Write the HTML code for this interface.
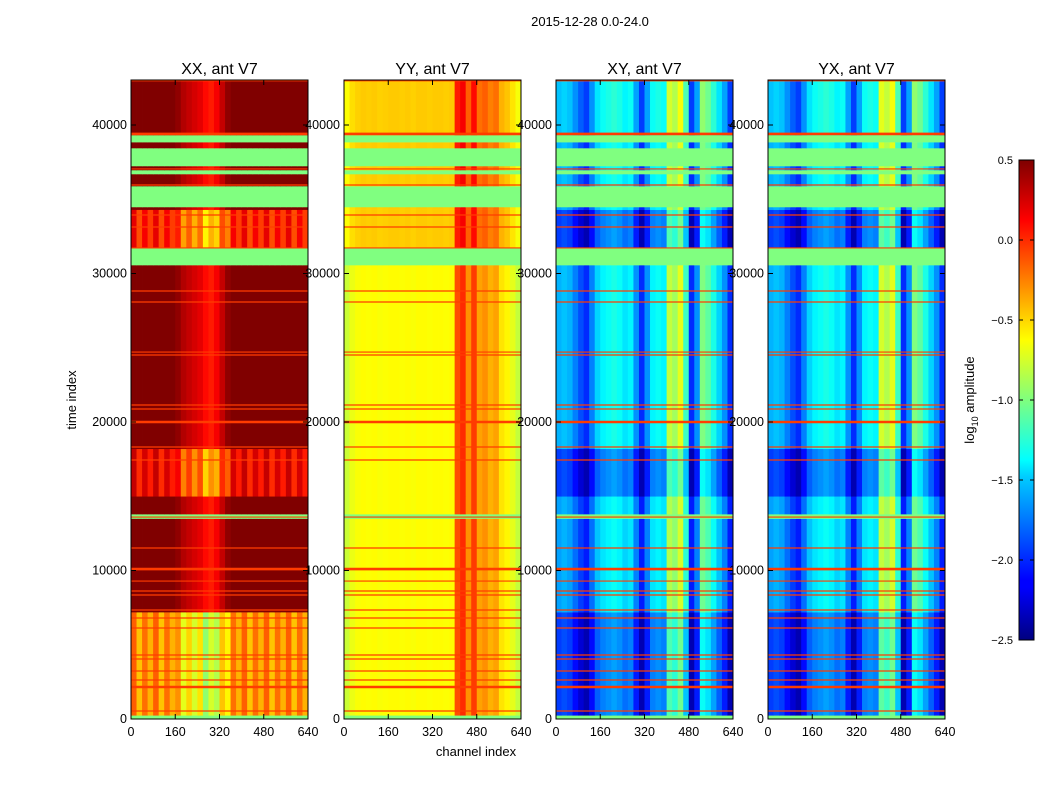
<!DOCTYPE html>
<html><head><meta charset="utf-8">
<style>
body{margin:0;background:#fff;font-family:"Liberation Sans",sans-serif;}
svg text{font-family:"Liberation Sans",sans-serif;}
</style></head>
<body>
<svg id="fig" width="1050" height="800" xmlns="http://www.w3.org/2000/svg">
<text x="590" y="26" font-size="13" text-anchor="middle">2015-12-28 0.0-24.0</text>
<text x="76" y="400" font-size="13" text-anchor="middle" transform="rotate(-90 76 400)">time index</text>
<text x="476" y="756" font-size="13" text-anchor="middle">channel index</text>
<defs>
<linearGradient id="jet" x1="0" y1="1" x2="0" y2="0">
<stop offset="0" stop-color="#00007f"/><stop offset="0.11" stop-color="#0000ff"/><stop offset="0.125" stop-color="#0000ff"/><stop offset="0.34" stop-color="#00ccff"/><stop offset="0.375" stop-color="#00ffff"/><stop offset="0.5" stop-color="#7fff7f"/><stop offset="0.625" stop-color="#ffff00"/><stop offset="0.66" stop-color="#ffdd00"/><stop offset="0.875" stop-color="#ff0000"/><stop offset="1" stop-color="#7f0000"/>
</linearGradient>
</defs>
<g id="cbar">
<rect x="1019" y="160" width="15" height="480" fill="url(#jet)" stroke="#000" stroke-width="1"/>
<text x="974" y="400" font-size="13" text-anchor="middle" transform="rotate(-90 974 400)">log<tspan font-size="9" dy="4">10</tspan><tspan dy="-4"> amplitude</tspan></text>
</g>
</svg>
<script>
const tMax = 43030;
const segBounds = [0,250,7200,13500,13800,15000,18200,30570,31720,34300,34480,35890,36700,36970,37240,38450,38850,39330,43030];
const panelTitles = ["XX, ant V7","YY, ant V7","XY, ant V7","YX, ant V7"];
const xxProfile = [0.6,0.6,0.6,0.6,0.6,0.6,0.6,0.6,0.45,0.35,0.3,0.25,0.2,0.1,0.05,0.15,0.3,0.45,0.6,0.6,0.6,0.6,0.6,0.6,0.6,0.6,0.6,0.6,0.6,0.6,0.6,0.6];
const yyProfile = [-0.78,-0.68,-0.64,-0.62,-0.63,-0.62,-0.64,-0.63,-0.62,-0.62,-0.63,-0.62,-0.64,-0.62,-0.62,-0.63,-0.62,-0.62,-0.63,-0.62,-0.1,0.0,-0.3,-0.05,-0.35,-0.3,-0.4,-0.35,-0.55,-0.6,-0.7,-0.8];
const xyProfile = [-1.6,-1.55,-1.6,-1.75,-1.9,-2.0,-1.75,-1.5,-1.4,-1.35,-1.3,-1.35,-1.45,-1.4,-1.7,-2.0,-1.7,-1.4,-1.35,-1.4,-0.8,-0.9,-0.7,-1.2,-2.0,-1.7,-1.0,-1.1,-1.3,-1.5,-1.7,-2.0];
const yxProfile = [-1.6,-1.55,-1.6,-1.75,-1.9,-2.0,-1.75,-1.5,-1.4,-1.35,-1.3,-1.35,-1.45,-1.4,-1.7,-2.0,-1.7,-1.4,-1.35,-1.4,-0.75,-0.85,-0.7,-1.2,-2.0,-1.7,-1.0,-1.1,-1.3,-1.5,-1.7,-2.0];
const xxOffsets = [null,-0.9,0,null,0,-0.45,0,null,-0.55,0,null,0,null,0,null,0,null,0];
const yyOffsets = [null,0,0,null,0,0,0,null,0.15,0.15,null,0.15,null,0.15,null,0.15,null,0.15];
const xyOffsets = [null,-0.35,-0.05,null,-0.05,-0.35,0,null,-0.35,-0.05,null,0,null,0,null,0,null,0.05];
const yxOffsets = [null,-0.35,-0.05,null,-0.05,-0.35,0,null,-0.35,-0.05,null,0,null,0,null,0,null,0.05];
const ripple = [0.15,-0.15,0.1,-0.1,0.15,-0.15,0.1,-0.1,0.15,-0.15,0.1,-0.1,0.15,-0.15,0.1,-0.1,0.15,-0.15,0.1,-0.1,0.15,-0.15,0.1,-0.1,0.15,-0.15,0.1,-0.1,0.15,-0.15,0.1,-0.1];
const rippleSegs = [1,5,8];
const flagValue = -1.0;
const redLines = [540,2155,2625,3230,4040,4310,6130,6800,7340,8350,8620,9290,10100,11515,13600,17440,18315,20000,20875,21145,24510,24710,28080,28820,31720,33130,33940,35960,37040,39400,42980];
const thickLines = [2155,10100,20000,39400];
const yTicks = [0,10000,20000,30000,40000];
const xTicks = [0,160,320,480,640];
const cbTicks = [0.5,0.0,-0.5,-1.0,-1.5,-2.0,-2.5];

const profiles=[xxProfile,yyProfile,xyProfile,yxProfile];
const offsets=[xxOffsets,yyOffsets,xyOffsets,yxOffsets];
const panelX=[131,344,556,768], pw=177, topY=80, botY=719;
const vmin=-2.5,vmax=0.5;
const NS="http://www.w3.org/2000/svg";
const svg=document.getElementById('fig');
function ys(t){return botY-(t/tMax)*(botY-topY);}
function jet(v){let x=(v-vmin)/(vmax-vmin);x=Math.max(0,Math.min(1,x));
 const c=a=>Math.round(255*Math.max(0,Math.min(1,1.5-Math.abs(4*x-a))));
 return `rgb(${c(3)},${c(2)},${c(1)})`;}
function el(tag,attrs,parent){const e=document.createElementNS(NS,tag);for(const k in attrs)e.setAttribute(k,attrs[k]);parent.appendChild(e);return e;}
for(let p=0;p<4;p++){
 const g=el('g',{},svg);
 
 
 const x0=panelX[p];const prof=profiles[p];const n=prof.length;const cw=pw/n;
 for(let s=0;s<segBounds.length-1;s++){
  const y1=ys(segBounds[s+1]),y2=ys(segBounds[s]);
  const off=offsets[p][s];
  for(let c=0;c<n;c++){
   let v = off===null?flagValue:prof[c]+off+((p===0&&rippleSegs.includes(s))?ripple[c]:0);
   const r=el('rect',{x:(x0+c*cw).toFixed(2),y:y1.toFixed(2),width:(cw+0.4).toFixed(2),height:(y2-y1+0.3).toFixed(2),fill:off===null?'#80ff80':jet(v)},g);
   
   
  }
 }
 for(const t of redLines){
  const l=el('line',{x1:x0,x2:x0+pw,y1:ys(t),y2:ys(t),stroke:'#ff3c00','stroke-width':thickLines.includes(t)?2.6:1.2},g);
  
  
 }
 const fr=el('rect',{x:x0,y:topY,width:pw,height:botY-topY,fill:'none',stroke:'#000','stroke-width':1},g);
 
 
 const tt=el('text',{x:x0+pw/2,y:74,'font-size':16,'text-anchor':'middle'},g);tt.textContent=panelTitles[p];
 
 
 for(const t of yTicks){
  const yy=ys(t);
  el('line',{x1:x0,x2:x0+5,y1:yy,y2:yy,stroke:'#000'},g);
  el('line',{x1:x0+pw-5,x2:x0+pw,y1:yy,y2:yy,stroke:'#000'},g);
  const lt=el('text',{x:x0-4,y:yy+4,'font-size':12.5,'text-anchor':'end'},g);lt.textContent=t;
  
  
 }
 for(const t of xTicks){
  const xx=x0+t/640*pw;
  el('line',{x1:xx,x2:xx,y1:botY,y2:botY-5,stroke:'#000'},g);
  el('line',{x1:xx,x2:xx,y1:topY,y2:topY+5,stroke:'#000'},g);
  const lt=el('text',{x:xx,y:botY+17,'font-size':12.5,'text-anchor':'middle'},g);lt.textContent=t;
  
  
 }
}
const cb=document.getElementById('cbar');
for(const v of cbTicks){
 const yy=160+(vmax-v)/(vmax-vmin)*480;
 el('line',{x1:1019,x2:1023,y1:yy,y2:yy,stroke:'#000'},cb);
 el('line',{x1:1030,x2:1034,y1:yy,y2:yy,stroke:'#000'},cb);
 const lt=el('text',{x:1013,y:yy+4,'font-size':11,'text-anchor':'end'},cb);lt.textContent=v.toFixed(1).replace('-','\u2212');
 
 
}
</script>
</body></html>
